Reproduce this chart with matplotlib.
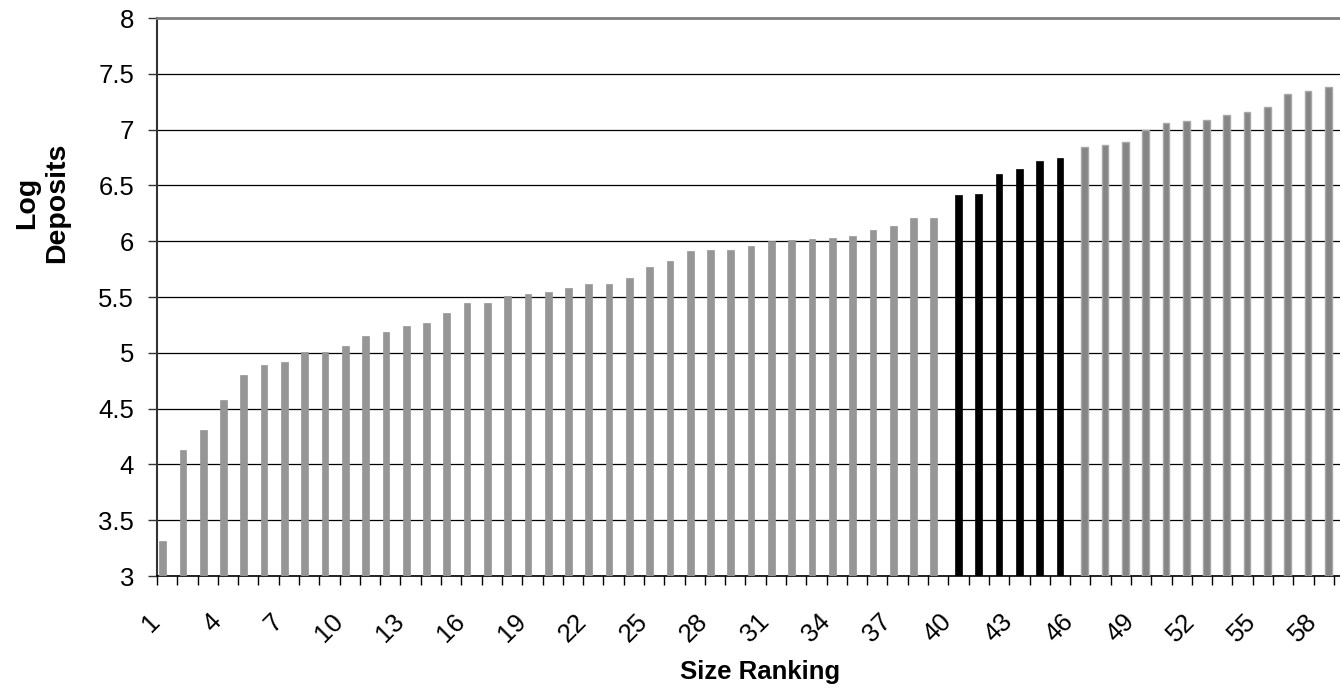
import numpy as np
import matplotlib
matplotlib.use("Agg")
import matplotlib.pyplot as plt
from matplotlib.ticker import FixedLocator, NullFormatter
import matplotlib.transforms as mtransforms

plt.rcParams["font.family"] = ["Liberation Sans", "DejaVu Sans"]

# size rank -> log deposits, split into the three coloured groups
ranks_low = list(range(1, 40))
deposits_low = [3.31, 4.13, 4.31, 4.58, 4.80, 4.89, 4.92, 5.01, 5.01, 5.06,
                5.15, 5.19, 5.24, 5.27, 5.36, 5.45, 5.45, 5.51, 5.53,
                5.545, 5.58, 5.62, 5.62, 5.67, 5.77, 5.82, 5.91, 5.92, 5.92,
                5.96, 6.00, 6.01, 6.02, 6.03, 6.05, 6.10, 6.14, 6.21, 6.21]
ranks_mid = list(range(40, 46))
deposits_mid = [6.41, 6.42, 6.60, 6.65, 6.72, 6.75]
ranks_high = list(range(46, 59))
deposits_high = [6.84, 6.86, 6.89, 7.00, 7.06, 7.08, 7.09, 7.13, 7.16, 7.20,
                 7.32, 7.35, 7.38]

label_ranks = list(range(1, 59, 3))

fig = plt.figure(figsize=(13.4, 6.93), dpi=100)
ax = fig.add_axes([157 / 1340, 1 - 576 / 693, 1 - 157 / 1340, (576 - 18) / 693])

w = 0.33
ax.bar(np.array(ranks_low) - 0.22, np.array(deposits_low) - 3, bottom=3, width=w,
       color="#969696", edgecolor="#969696", linewidth=0.5, zorder=3)
ax.bar(np.array(ranks_mid), np.array(deposits_mid) - 3, bottom=3, width=w,
       color="black", edgecolor="black", linewidth=0.5, zorder=3)
ax.bar(np.array(ranks_high) + 0.22, np.array(deposits_high) - 3, bottom=3, width=w,
       color="#858585", edgecolor="#a8a8a8", linewidth=1.0, zorder=3)

ax.set_xlim(0.5, 58.8)
ax.set_ylim(3, 8)
yt = np.arange(3, 8.01, 0.5)
ax.set_yticks(yt)
ax.set_yticklabels([f"{v:g}" for v in yt], fontsize=18.5)
ax.yaxis.grid(True, color="black", linewidth=0.9, zorder=1)
ax.set_axisbelow(True)
ax.tick_params(axis="y", length=6.5, width=1, pad=10, color="#333333")

# labels every third rank, tick marks between categories
ax.xaxis.set_major_locator(FixedLocator(label_ranks))
ax.set_xticklabels([str(r) for r in label_ranks], fontsize=18.5, rotation=45,
                   ha="right", va="top", rotation_mode="anchor")
ax.xaxis.set_minor_locator(FixedLocator(np.arange(0.5, 59, 1.0)))
ax.xaxis.set_minor_formatter(NullFormatter())
ax.tick_params(axis="x", which="major", length=0, pad=24)
ax.tick_params(axis="x", which="minor", length=6.5, width=1, color="black")
shift = mtransforms.ScaledTranslation(-19 / 100, 0, fig.dpi_scale_trans)
for lab in ax.get_xticklabels():
    lab.set_transform(lab.get_transform() + shift)

ax.spines["right"].set_visible(False)
ax.spines["top"].set_color("#808080")
ax.spines["top"].set_linewidth(2)
ax.spines["left"].set_color("#333333")
ax.spines["left"].set_linewidth(1.5)
ax.spines["bottom"].set_color("black")
ax.spines["bottom"].set_linewidth(1.2)

fig.text(42 / 1340, 1 - 203 / 693, "Log\nDeposits", rotation=90, fontsize=20.5,
         fontweight="bold", ha="center", va="center")
fig.text(760 / 1340, 1 - 672 / 693, "Size Ranking", fontsize=18.5,
         fontweight="bold", ha="center", va="center")

fig.savefig("out.png", dpi=100)
